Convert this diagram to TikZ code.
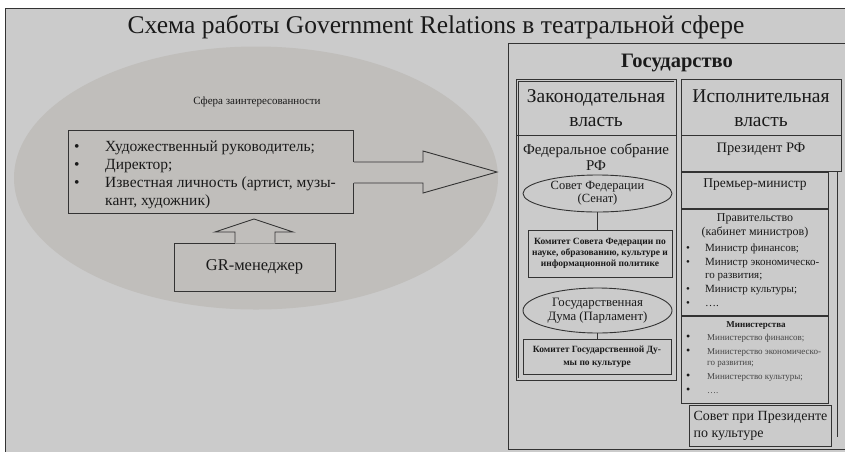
\documentclass[tikz,border=0pt]{standalone}
\usepackage{fontspec}
\setmainfont{Liberation Serif}
\usetikzlibrary{shapes.geometric}
\definecolor{bgc}{HTML}{CBCBCB}
\definecolor{ellc}{HTML}{C0BEBB}
\definecolor{linec}{HTML}{333333}
\definecolor{txtc}{HTML}{1A1A1A}
\definecolor{faintc}{HTML}{454545}
\newcommand{\fsz}[2]{\fontsize{#1}{#2}\selectfont}
\newcommand{\bul}[1]{\makebox[#1][l]{\textbullet}}
\newcommand{\smallbul}[1]{\makebox[#1][l]{\color{txtc}\fsz{12}{11}\textbullet}}

\begin{document}
\begin{tikzpicture}[x=1pt,y=-1pt]
  \tikzset{box/.style = {shape=rectangle,draw=linec,fill=bgc,line width=0.9pt,inner sep=0pt}}
  \tikzset{oval/.style = {shape=ellipse,draw=linec,fill=bgc,line width=0.9pt,inner sep=0pt,align=center,text=txtc}}
  \tikzset{txt/.style = {inner sep=0pt,align=center,text=txtc}}
  \tikzset{link/.style = {draw=linec,line width=0.9pt}}
  \tikzset{fat/.style = {draw=linec,line width=0.9pt,line join=miter}}

  \useasboundingbox (0,0) rectangle (845,451);
  \fill[white] (0,0) rectangle (845,451);
  \node[box, anchor=north west, minimum width=850, minimum height=460] (frame) at (4.5,8) {};
  \node[txt, font=\fsz{25.5}{30}] (title) at (436,27) {Схема работы Government Relations в театральной сфере};

  % sphere of interest
  \node[shape=ellipse, fill=ellc, minimum width=484, minimum height=263, inner sep=0pt] (sphere) at (256,178) {};
  \node[txt, font=\fsz{11}{12}] (spherelbl) at (257,102) {Сфера заинтересованности};

  \node[box, fill=ellc, anchor=north west, minimum width=285, minimum height=83] (roles) at (68,130) {};
  \node[txt, anchor=base west, font=\fsz{15.5}{18}] (rolelist) at (74,151)
    {\begin{tabular}[t]{@{}l@{}l@{}}
      \bul{31pt} & Художественный руководитель;\\
      \bul{31pt} & Директор;\\
      \bul{31pt} & Известная личность (артист, музы-\\
                 & кант, художник)
    \end{tabular}};

  \fill[ellc] (352.4,162) -- (423,162) -- (423,151) -- (497,172) -- (423,193) -- (423,183) -- (352.4,183) -- cycle;
  \draw[fat] (roles.east |- 0,162) -- (423,162) -- (423,151) -- (497,172) -- (423,193) -- (423,183) -- (roles.east |- 0,183);

  \node[box, fill=ellc, minimum width=161, minimum height=48, font=\fsz{16.5}{18}, text=txtc] (gr) at (254.5,267) {GR-менеджер};
  \fill[ellc] (235,243.6) -- (235,232) -- (215,232) -- (254,219) -- (293,232) -- (275,232) -- (275,243.6) -- cycle;
  \draw[fat] (gr.north -| 235,0) -- (235,232) -- (215,232) -- (254,219) -- (293,232) -- (275,232) -- (gr.north -| 275,0);

  % state
  \node[box, anchor=north west, minimum width=345, minimum height=406] (state) at (508,43) {};
  \node[txt, font=\fsz{20.5}{22}\bfseries] (statelbl) at (677,63) {Государство};

  % legislative
  \node[box, double=bgc, double distance=1.6pt, line width=0.6pt, anchor=north west, minimum width=157.8, minimum height=298.8] (leg) at (517.1,80.1) {};
  \draw[link] (leg.west |- 0,135) -- (leg.east |- 0,135);
  \node[txt, font=\fsz{19.5}{24}] (leghead) at (596,108) {Законодательная\\власть};
  \node[txt, font=\fsz{15}{16}] (fedsob) at (596,157) {Федеральное собрание\\РФ};
  \node[oval, minimum width=149, minimum height=37, font=\fsz{12.5}{13}] (sf) at (597.5,193.5) {Совет Федерации\\(Сенат)};
  \node[box, minimum width=144, minimum height=47, font=\fsz{9.5}{11}\bfseries, text=txtc, align=center] (sfcom) at (600,253.5) {Комитет Совета Федерации по\\науке, образованию, культуре и\\информационной политике};
  \node[oval, minimum width=149, minimum height=45, font=\fsz{12.8}{14}] (duma) at (597.5,310.5) {Государственная\\Дума (Парламент)};
  \node[box, minimum width=148, minimum height=35, font=\fsz{9.5}{13}\bfseries, text=txtc, align=center] (dumacom) at (597,356.5) {Комитет Государственной Ду-\\мы по культуре};
  \draw[link] (sf.south) -- (sf.south |- sfcom.north);
  \draw[link] (duma.south) -- (duma.south |- dumacom.north);

  % executive
  \node[box, anchor=north west, minimum width=160, minimum height=92] (exhead) at (681,79) {};
  \draw[link] (exhead.west |- 0,135) -- (exhead.east |- 0,135);
  \node[txt, font=\fsz{19.5}{24}] (exheadlbl) at (761,108) {Исполнительная\\власть};
  \node[txt, font=\fsz{14.5}{16}] (pres) at (761,149) {Президент РФ};
  \draw[link] ([xshift=-4pt]exhead.south east) -- ++(0,265);
  \node[box, anchor=north west, minimum width=147, minimum height=36] (premier) at (exhead.south west) {};
  \node[txt, font=\fsz{13.5}{15}] (premierlbl) at (755,185) {Премьер-министр};
  \node[box, anchor=north west, minimum width=147, minimum height=106] (gov) at (premier.south west) {};
  \node[txt, font=\fsz{12}{14}] (govhead) at (755,226) {Правительство\\(кабинет министров)};
  \node[txt, anchor=base west, font=\fsz{11}{13}] (govlist) at (686,251)
    {\begin{tabular}[t]{@{}l@{}l@{}}
      \bul{19pt} & Министр финансов;\\[1pt]
      \bul{19pt} & Министр экономическо-\\
                 & го развития;\\[1pt]
      \bul{19pt} & Министр культуры;\\[1pt]
      \bul{19pt} & ….
    \end{tabular}};
  \node[box, anchor=north west, minimum width=147, minimum height=87] (mins) at (gov.south west) {};
  \node[txt, font=\fsz{9}{11}\bfseries] (minshead) at (756,326) {Министерства};
  \node[txt, anchor=base west, text=faintc, font=\fsz{9}{11}] (minslist) at (686,340)
    {\begin{tabular}[t]{@{}l@{}l@{}}
      \smallbul{21pt} & Министерство финансов;\\[3pt]
      \smallbul{21pt} & Министерство экономическо-\\
                      & го развития;\\[3pt]
      \smallbul{21pt} & Министерство культуры;\\[3pt]
      \smallbul{21pt} & ….
    \end{tabular}};
  \node[box, anchor=north west, minimum width=142, minimum height=41, font=\fsz{14}{17}, text=txtc, align=left] (council) at (689,405) {Совет при Президенте\\по культуре};
\end{tikzpicture}
\end{document}
